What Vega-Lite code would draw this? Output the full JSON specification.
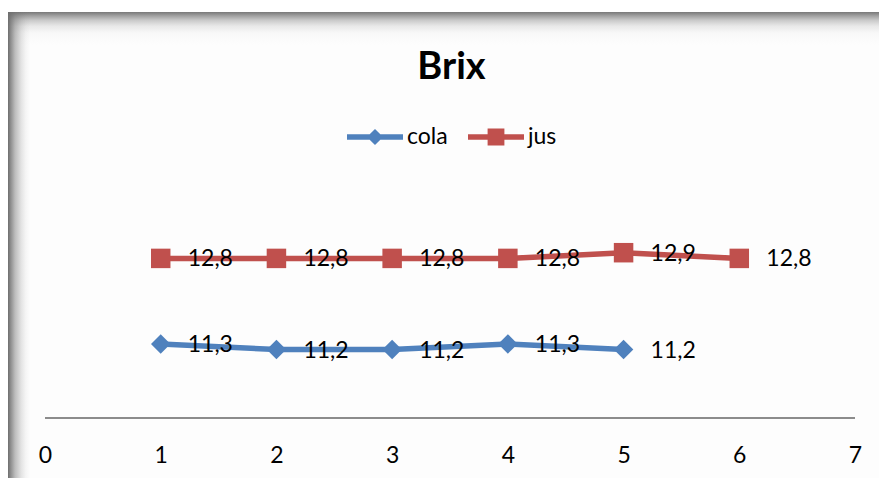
{
  "$schema": "https://vega.github.io/schema/vega-lite/v6.json",
  "autosize": "none",
  "width": 871,
  "height": 466,
  "padding": {"left": 8, "top": 12, "right": 0, "bottom": 0},
  "background": "white",
  "title": {
    "text": "Brix",
    "anchor": "middle",
    "frame": "group",
    "orient": "top",
    "offset": -105,
    "baseline": "alphabetic",
    "dx": 8,
    "font": "Lato",
    "fontSize": 38,
    "fontWeight": "bold",
    "color": "#000000"
  },
  "config": {
    "locale": {
      "number": {"decimal": ",", "thousands": ".", "grouping": [3], "currency": ["", " €"]}
    },
    "view": {
      "fill": {
        "gradient": "linear", "x1": 0, "y1": 0, "x2": 0, "y2": 1,
        "stops": [
          {"offset": 0, "color": "#787878"},
          {"offset": 0.008, "color": "#a0a0a0"},
          {"offset": 0.018, "color": "#cacaca"},
          {"offset": 0.03, "color": "#e8e8e8"},
          {"offset": 0.045, "color": "#f8f8f8"},
          {"offset": 0.07, "color": "#fdfdfd"},
          {"offset": 1, "color": "#fdfdfd"}
        ]
      },
      "stroke": {
        "gradient": "linear", "x1": -0.02526, "y1": 0, "x2": 0.02526, "y2": 0,
        "stops": [
          {"offset": 0, "color": "rgba(110,110,110,0)"},
          {"offset": 0.499, "color": "rgba(110,110,110,0)"},
          {"offset": 0.5, "color": "rgba(110,110,110,1)"},
          {"offset": 0.56, "color": "rgba(110,110,110,0.78)"},
          {"offset": 0.66, "color": "rgba(110,110,110,0.45)"},
          {"offset": 0.8, "color": "rgba(110,110,110,0.18)"},
          {"offset": 0.9, "color": "rgba(110,110,110,0.06)"},
          {"offset": 1, "color": "rgba(110,110,110,0)"}
        ]
      },
      "strokeWidth": 44,
      "strokeDash": [0, 2208, 466, 0]
    }
  },
  "data": {
    "values": [
      {"serie": "cola", "n": 1, "brix": 11.3},
      {"serie": "cola", "n": 2, "brix": 11.2},
      {"serie": "cola", "n": 3, "brix": 11.2},
      {"serie": "cola", "n": 4, "brix": 11.3},
      {"serie": "cola", "n": 5, "brix": 11.2},
      {"serie": "jus", "n": 1, "brix": 12.8},
      {"serie": "jus", "n": 2, "brix": 12.8},
      {"serie": "jus", "n": 3, "brix": 12.8},
      {"serie": "jus", "n": 4, "brix": 12.8},
      {"serie": "jus", "n": 5, "brix": 12.9},
      {"serie": "jus", "n": 6, "brix": 12.8}
    ]
  },
  "encoding": {
    "x": {
      "field": "n",
      "type": "quantitative",
      "scale": {"domain": [-0.3198, 7.2074], "nice": false, "zero": false},
      "axis": {
        "title": null,
        "values": [0, 1, 2, 3, 4, 5, 6, 7],
        "format": "d",
        "domain": false,
        "ticks": false,
        "grid": false,
        "offset": -60,
        "labelPadding": 26,
        "labelFont": "Lato",
        "labelFontSize": 23,
        "labelColor": "#000000"
      }
    },
    "y": {
      "field": "brix",
      "type": "quantitative",
      "scale": {"domain": [8.947, 17.123], "nice": false, "zero": false},
      "axis": null
    },
    "color": {
      "field": "serie",
      "type": "nominal",
      "scale": {"domain": ["cola", "jus"], "range": ["#4F81BD", "#C0504D"]},
      "legend": {
        "title": null,
        "orient": "none",
        "legendX": 339,
        "legendY": 97,
        "direction": "horizontal",
        "padding": 0,
        "symbolSize": 3136,
        "labelFont": "Lato",
        "labelFontSize": 23,
        "labelColor": "#000000",
        "labelOffset": 4,
        "columnPadding": 20,
        "encode": {
          "symbols": {
            "update": {
              "shape": {"signal": "datum.value === 'cola' ? 'M-1,-0.1 L-0.19,-0.1 L0,-0.29 L0.19,-0.1 L1,-0.1 L1,0.1 L0.19,0.1 L0,0.29 L-0.19,0.1 L-1,0.1 Z' : 'M-1,-0.1 L-0.3,-0.1 L-0.3,-0.3 L0.3,-0.3 L0.3,-0.1 L1,-0.1 L1,0.1 L0.3,0.1 L0.3,0.3 L-0.3,0.3 L-0.3,0.1 L-1,0.1 Z'"},
              "fill": {"signal": "datum.value === 'cola' ? '#4F81BD' : '#C0504D'"},
              "fillOpacity": {"value": 1},
              "opacity": {"value": 1},
              "stroke": {"value": "transparent"},
              "strokeWidth": {"value": 0}
            }
          }
        }
      }
    }
  },
  "layer": [
    {
      "mark": {"type": "rule", "color": "#8c8c8c", "strokeWidth": 1.5},
      "encoding": {
        "x": {"datum": 0},
        "x2": {"datum": 7},
        "y": {"datum": 10},
        "color": {"value": "#8c8c8c"}
      }
    },
    {
      "mark": {"type": "line", "strokeWidth": 5.5, "strokeCap": "round", "strokeJoin": "round"}
    },
    {
      "transform": [{"filter": "datum.serie === 'cola'"}],
      "mark": {"type": "point", "shape": "diamond", "filled": true, "opacity": 1, "size": 380}
    },
    {
      "transform": [{"filter": "datum.serie === 'jus'"}],
      "mark": {"type": "point", "shape": "square", "filled": true, "opacity": 1, "size": 380}
    },
    {
      "mark": {"type": "text", "align": "left", "baseline": "middle", "dx": 27, "dy": 1, "font": "Lato", "fontSize": 23, "color": "#000000"},
      "encoding": {
        "text": {"field": "brix", "type": "quantitative", "format": ".1f"},
        "color": {"value": "#000000"}
      }
    }
  ]
}
